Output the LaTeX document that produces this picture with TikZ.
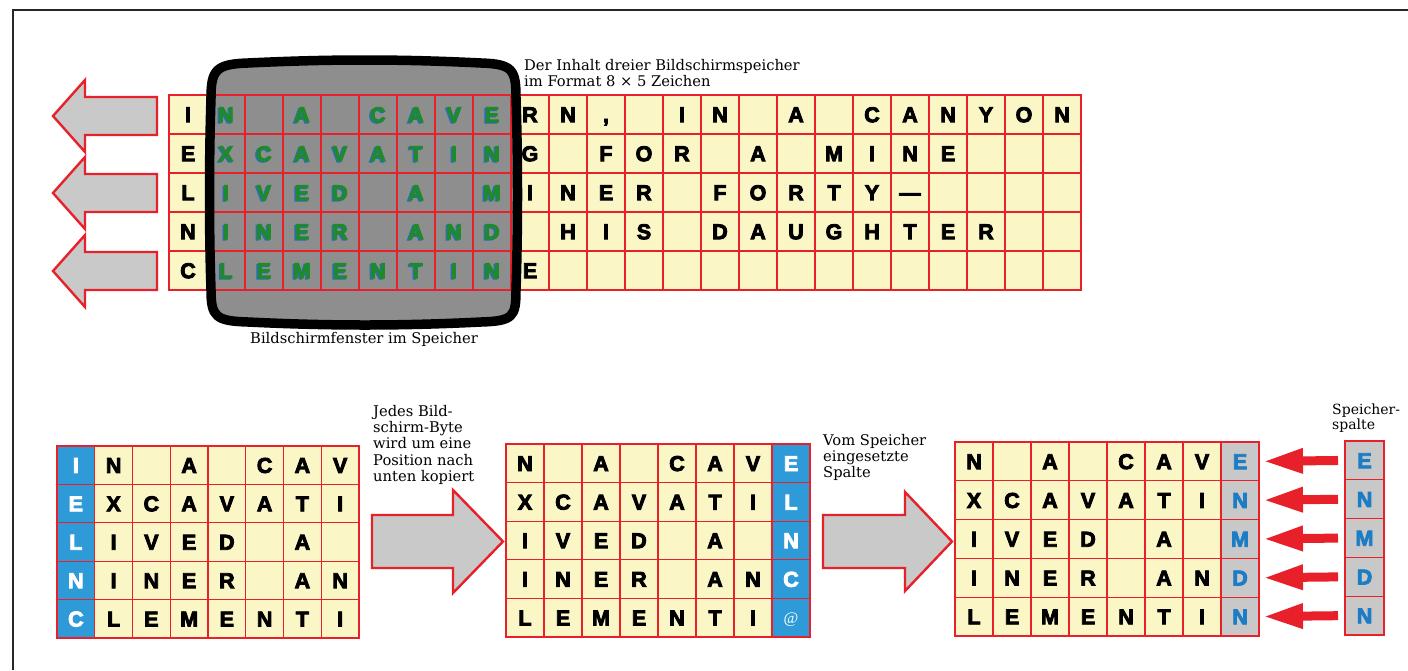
\documentclass[tikz,border=0pt]{standalone}
\usepackage{fontspec}
\usetikzlibrary{arrows.meta}
\newfontfamily\lett{Liberation Sans Bold}[FakeBold=4]
\newfontfamily\labf{DejaVu Serif}
\newfontfamily\atf{Liberation Serif}
\definecolor{cellY}{HTML}{FBF6C6}
\definecolor{gridR}{HTML}{E8202A}
\definecolor{monG}{HTML}{8E8E8E}
\definecolor{arrG}{HTML}{C9C9C9}
\definecolor{cellB}{HTML}{2E9BD8}
\definecolor{txtB}{HTML}{1C7CC4}
\definecolor{scrG}{HTML}{1E8A2C}
\definecolor{shadB}{HTML}{2A6FB0}
\definecolor{colG}{HTML}{C8C8C8}
\tikzset{
  cell/.style={inner sep=0pt, outer sep=0pt, text height=15.4pt, text depth=0pt,
    font=\lett\fontsize{21.5}{21.5}\selectfont},
  thinline/.style={gridR, line width=1.2pt},
  outline/.style={gridR, line width=2.6pt},
  blockarrow/.style={fill=arrG, draw=gridR, line width=2.4pt, line join=miter},
  lab/.style={font=\labf\fontsize{14.7}{16.3}\selectfont, align=left, inner sep=0pt},
  redarrow/.style={gridR, line width=9pt, -{Triangle[length=40pt,width=23pt]}, shorten <=7pt, shorten >=4pt}
}
\begin{document}
\begin{tikzpicture}[x=1pt,y=-1pt]
\useasboundingbox (0,0) rectangle (1408,670);
\fill[white] (0,0) rectangle (1408,670);
% frame
\draw[line width=1.6pt, black!85] (1408,10) -- (13,10) -- (13,670);

% ---------- top: three screen memories ----------
\fill[cellY] (169,95) rectangle (1081,290);
% monitor screen
\path[fill=monG] (211,98) .. controls (211,70) and (216,64) .. (248,63)
  .. controls (330,59) and (400,59) .. (481,63)
  .. controls (513,64) and (516,70) .. (516,98)
  .. controls (518,160) and (518,230) .. (516,290)
  .. controls (516,317) and (513,321) .. (481,322)
  .. controls (400,326) and (330,326) .. (248,322)
  .. controls (216,321) and (211,317) .. (211,290)
  .. controls (209,230) and (209,160) .. (211,98) -- cycle;
\foreach \i in {1,...,23} \draw[thinline] ({169+\i*38},95) -- ({169+\i*38},290);
\foreach \j in {1,...,4} \draw[thinline] (169,{95+\j*39}) -- (1081,{95+\j*39});
\draw[outline] (473,95) -- (473,290);
\draw[outline] (777,95) -- (777,290);
\draw[outline] (169,95) rectangle (1081,290);
% letters
\foreach \row [count=\r] in {
  {I,N,{},A,{},C,A,V,E,R,N,{,},{},I,N,{},A,{},C,A,N,Y,O,N},
  {E,X,C,A,V,A,T,I,N,G,{},F,O,R,{},A,{},M,I,N,E,{},{},{}},
  {L,I,V,E,D,{},A,{},M,I,N,E,R,{},F,O,R,T,Y,—,{},{},{},{}},
  {N,I,N,E,R,{},A,N,D,{},H,I,S,{},D,A,U,G,H,T,E,R,{},{}},
  {C,L,E,M,E,N,T,I,N,E,{},{},{},{},{},{},{},{},{},{},{},{},{},{}}} {
  \foreach \ch [count=\c] in \row {
    \pgfmathsetmacro\cx{169+(\c-0.5)*38}
    \pgfmathsetmacro\cy{95+(\r-0.5)*39}
    \pgfmathtruncatemacro\ins{and(\c>1,\c<10)}
    \ifnum\ins=1
      \node[cell, text=shadB] (ts-\r-\c) at (\cx-1.5,\cy+1) {\ch};
      \node[cell, text=scrG, minimum width=38pt, minimum height=39pt] (t-\r-\c) at (\cx,\cy) {\ch};
    \else
      \node[cell, text=black, minimum width=38pt, minimum height=39pt] (t-\r-\c) at (\cx,\cy) {\ch};
    \fi
  }
}
% monitor bezel
\draw[line width=9.5pt, line join=round] (211,98) .. controls (211,70) and (216,64) .. (248,63)
  .. controls (330,59) and (400,59) .. (481,63)
  .. controls (513,64) and (516,70) .. (516,98)
  .. controls (518,160) and (518,230) .. (516,290)
  .. controls (516,317) and (513,321) .. (481,322)
  .. controls (400,326) and (330,326) .. (248,322)
  .. controls (216,321) and (211,317) .. (211,290)
  .. controls (209,230) and (209,160) .. (211,98) -- cycle;
% left arrows
\foreach \yc in {116,193,271}
  \draw[blockarrow] (53,\yc) -- (85,\yc-36) -- (85,\yc-19) -- (157,\yc-19)
     -- (157,\yc+19) -- (85,\yc+19) -- (85,\yc+36) -- cycle;
% labels
\node[lab, anchor=north west] (labtop) at (524,59)
  {Der Inhalt dreier Bildschirmspeicher\\im Format 8 × 5 Zeichen};
\node[lab] (labmon) at (364,339) {Bildschirmfenster im Speicher};

% ---------- bottom left grid ----------
\fill[cellY] (57,446) rectangle (359,638);
\fill[cellB] (57,446) rectangle (94.75,638);
\foreach \row [count=\r] in {
  {I,N,{},A,{},C,A,V},{E,X,C,A,V,A,T,I},{L,I,V,E,D,{},A,{}},
  {N,I,N,E,R,{},A,N},{C,L,E,M,E,N,T,I}} {
  \foreach \ch [count=\c] in \row {
    \pgfmathsetmacro\cx{57+(\c-0.5)*37.75}
    \pgfmathsetmacro\cy{446+(\r-0.5)*38.4}
    \ifnum\c=1 \def\tc{white}\else\def\tc{black}\fi
    \node[cell, text=\tc, minimum width=37.75pt, minimum height=38.4pt] (L-\r-\c) at (\cx,\cy) {\ch};
  }
}
\foreach \i in {1,...,7} \draw[thinline] ({57+\i*37.75},446) -- ({57+\i*37.75},638);
\foreach \j in {1,...,4} \draw[thinline] (57,{446+\j*38.4}) -- (359,{446+\j*38.4});
\draw[outline] (57,446) rectangle (359,638);

% ---------- bottom middle grid ----------
\fill[cellY] (506,444) rectangle (810,637);
\fill[cellB] (772,444) rectangle (810,637);
\foreach \row [count=\r] in {
  {N,{},A,{},C,A,V,E},{X,C,A,V,A,T,I,L},{I,V,E,D,{},A,{},N},
  {I,N,E,R,{},A,N,C},{L,E,M,E,N,T,I,@}} {
  \foreach \ch [count=\c] in \row {
    \pgfmathsetmacro\cx{506+(\c-0.5)*38}
    \pgfmathsetmacro\cy{444+(\r-0.5)*38.6}
    \ifnum\c=8
      \ifnum\r=5
        \node[cell, text=white, minimum width=38pt, minimum height=38.6pt,
          font=\atf\fontsize{16}{16}\selectfont, text height=11pt] (M-\r-\c) at (\cx,\cy) {\ch};
      \else
        \node[cell, text=white, minimum width=38pt, minimum height=38.6pt] (M-\r-\c) at (\cx,\cy) {\ch};
      \fi
    \else
      \node[cell, text=black, minimum width=38pt, minimum height=38.6pt] (M-\r-\c) at (\cx,\cy) {\ch};
    \fi
  }
}
\foreach \i in {1,...,7} \draw[thinline] ({506+\i*38},444) -- ({506+\i*38},637);
\foreach \j in {1,...,4} \draw[thinline] (506,{444+\j*38.6}) -- (810,{444+\j*38.6});
\draw[outline] (506,444) rectangle (810,637);

% ---------- bottom right grid ----------
\fill[cellY] (955,442) rectangle (1259,636);
\fill[colG] (1221,442) rectangle (1259,636);
\foreach \row [count=\r] in {
  {N,{},A,{},C,A,V,E},{X,C,A,V,A,T,I,N},{I,V,E,D,{},A,{},M},
  {I,N,E,R,{},A,N,D},{L,E,M,E,N,T,I,N}} {
  \foreach \ch [count=\c] in \row {
    \pgfmathsetmacro\cx{955+(\c-0.5)*38}
    \pgfmathsetmacro\cy{442+(\r-0.5)*38.8}
    \ifnum\c=8 \def\tc{txtB}\else\def\tc{black}\fi
    \node[cell, text=\tc, minimum width=38pt, minimum height=38.8pt] (R-\r-\c) at (\cx,\cy) {\ch};
  }
}
\foreach \i in {1,...,7} \draw[thinline] ({955+\i*38},442) -- ({955+\i*38},636);
\foreach \j in {1,...,4} \draw[thinline] (955,{442+\j*38.8}) -- (1259,{442+\j*38.8});
\draw[outline] (955,442) rectangle (1259,636);

% ---------- memory column ----------
\fill[colG] (1345,441) rectangle (1384,635);
\foreach \ch [count=\r] in {E,N,M,D,N} {
  \pgfmathsetmacro\cy{441+(\r-0.5)*38.8}
  \node[cell, text=txtB, minimum width=39pt, minimum height=38.8pt] (S-\r) at (1364.5,\cy) {\ch};
}
\foreach \j in {1,...,4} \draw[thinline] (1345,{441+\j*38.8}) -- (1384,{441+\j*38.8});
\draw[outline] (1345,441) rectangle (1384,635);
\foreach \r in {1,...,5} \draw[redarrow] (S-\r.west) -- (R-\r-8.east);

% ---------- grey block arrows ----------
\draw[blockarrow] (372,515) -- (453,515) -- (453,490) -- (503,541.5) -- (453,593)
  -- (453,568) -- (372,568) -- cycle;
\draw[blockarrow] (823,515) -- (905,515) -- (905,492) -- (952,541.5) -- (905,591)
  -- (905,568) -- (823,568) -- cycle;

% ---------- notes ----------
\node[lab, anchor=north west] (labcopy) at (373,405)
  {Jedes Bild-\\schirm-Byte\\wird um eine\\Position nach\\unten kopiert};
\node[lab, anchor=north west] (labins) at (823,434)
  {Vom Speicher\\eingesetzte\\Spalte};
\node[lab, anchor=north west, font=\labf\fontsize{14}{15}\selectfont] (labcol) at (1332,404)
  {Speicher-\\spalte};
\end{tikzpicture}
\end{document}
